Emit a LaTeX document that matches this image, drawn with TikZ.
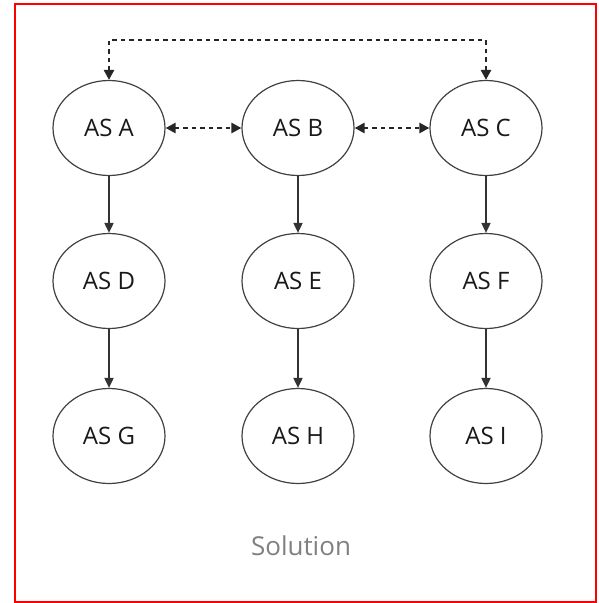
\documentclass[tikz,border=0pt]{standalone}
\usepackage{fontspec}
\setmainfont{Open Sans}
\usetikzlibrary{shapes.geometric,arrows.meta}
\begin{document}
\begin{tikzpicture}[x=1pt,y=-1pt,
  asnode/.style={draw=black!75,line width=1.2pt,ellipse,minimum width=112pt,minimum height=95pt,inner sep=0pt,font=\fontsize{24}{26}\selectfont,text=black!90},
  solid arr/.style={draw=black!80,line width=1.8pt,-{Triangle[length=10pt,width=9pt]}},
  dot arr/.style={draw=black!85,line width=2.5pt,dash pattern=on 4.5pt off 4pt,{Triangle[length=10pt,width=10pt]}-{Triangle[length=10pt,width=10pt]}}]
\useasboundingbox (0,0) rectangle (598,603);
\draw[red,line width=1.3pt] (15,4) rectangle (596,602);
\node[asnode] (A) at (109,128) {AS A};
\node[asnode] (B) at (298,128) {AS B};
\node[asnode] (C) at (486,128) {AS C};
\node[asnode] (D) at (109,281) {AS D};
\node[asnode] (E) at (298,281) {AS E};
\node[asnode] (F) at (486,281) {AS F};
\node[asnode] (G) at (109,436) {AS G};
\node[asnode] (H) at (298,436) {AS H};
\node[asnode] (I) at (486,436) {AS I};
\coordinate (tl) at (109,40);
\coordinate (tr) at (486,40);
\draw[dot arr] (A.north) -- (tl) -- (tr) -- (C.north);
\draw[dot arr] (A.east) -- (B.west);
\draw[dot arr] (B.east) -- (C.west);
\draw[solid arr] (A) -- (D);
\draw[solid arr] (B) -- (E);
\draw[solid arr] (C) -- (F);
\draw[solid arr] (D) -- (G);
\draw[solid arr] (E) -- (H);
\draw[solid arr] (F) -- (I);
\node[text=black!50,font=\fontsize{26}{28}\selectfont] (sol) at (301,546) {Solution};
\end{tikzpicture}
\end{document}
